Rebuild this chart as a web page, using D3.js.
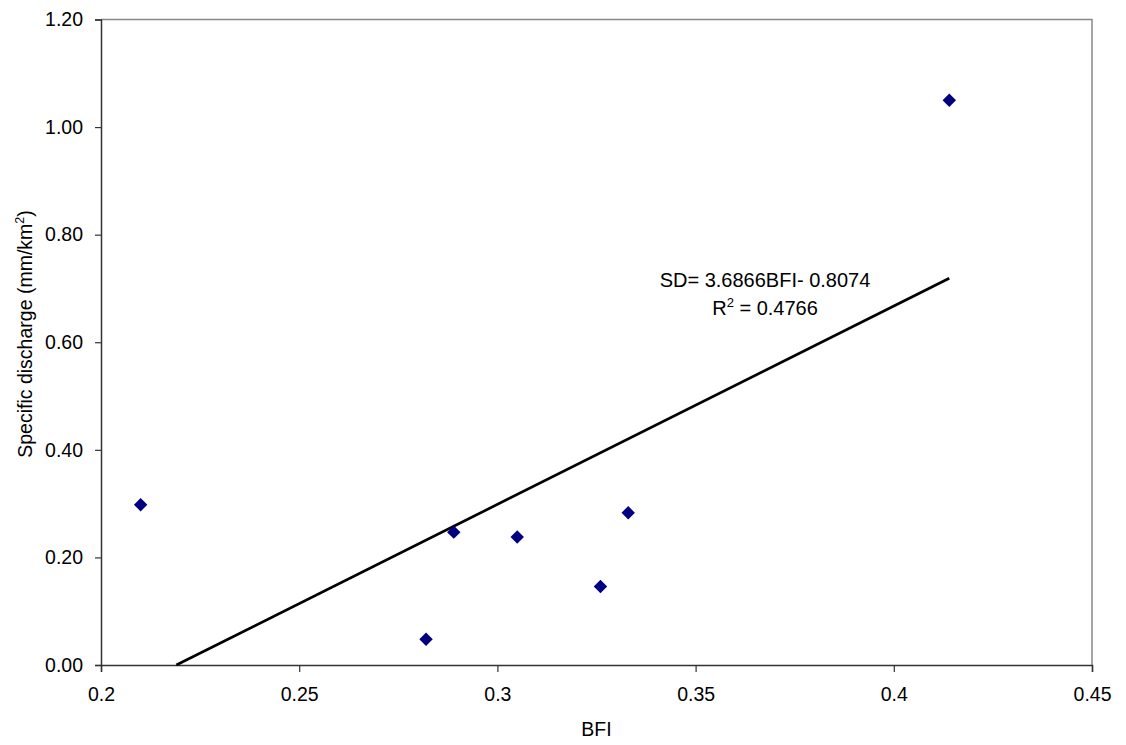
<!DOCTYPE html>
<html>
<head>
<meta charset="utf-8">
<script src="https://cdn.jsdelivr.net/npm/d3@7"></script>
<style>
  html, body { margin: 0; padding: 0; background: #fff; }
  svg { display: block; font-family: Arial, "Liberation Sans", sans-serif; }
</style>
</head>
<body>
<svg id="chart" width="1126" height="745"></svg>
<script>
// Observed basin values: baseflow index vs specific discharge
const bfi = [0.210, 0.282, 0.289, 0.305, 0.326, 0.333, 0.414];
const specificDischarge = [0.298, 0.048, 0.247, 0.238, 0.146, 0.283, 1.050];

// Linear fit SD = slope * BFI + intercept
const slope = 3.6866;
const intercept = -0.8074;
const rSquared = 0.4766;

const xTicks = [0.2, 0.25, 0.3, 0.35, 0.4, 0.45];
const yTicks = [0, 0.2, 0.4, 0.6, 0.8, 1.0, 1.2];

const FONT = 19.5;
const svg = d3.select("#chart");
const margin = { left: 101, top: 19.5, right: 1126 - 1092, bottom: 745 - 665 };
const width = 1126 - margin.left - margin.right;
const height = 745 - margin.top - margin.bottom;

const x = d3.scaleLinear().domain([0.2, 0.45]).range([margin.left, margin.left + width]);
const y = d3.scaleLinear().domain([0, 1.2]).range([margin.top + height, margin.top]);

// Plot area border (top and right in grey)
svg.append("path")
  .attr("d", `M${x(0.2)},${y(1.2)}H${x(0.45)}V${y(0)}`)
  .attr("fill", "none").attr("stroke", "#888").attr("stroke-width", 1.5);

// Axes
const xAxis = d3.axisBottom(x).tickValues(xTicks).tickSize(7).tickPadding(15)
  .tickFormat(d => String(+d.toFixed(2)));
const yAxis = d3.axisLeft(y).tickValues(yTicks).tickSize(6).tickPadding(12)
  .tickFormat(d3.format(".2f"));

const gx = svg.append("g").attr("transform", `translate(0,${y(0)})`).call(xAxis);
const gy = svg.append("g").attr("transform", `translate(${x(0.2)},0)`).call(yAxis);
[gx, gy].forEach(g => {
  g.select(".domain").attr("stroke", "#333").attr("stroke-width", 1.5);
  g.selectAll(".tick line").attr("stroke", "#333").attr("stroke-width", 1.2);
  g.selectAll(".tick text").attr("fill", "#000").attr("font-size", FONT)
    .attr("font-family", "Arial, 'Liberation Sans', sans-serif");
});

// Trend line from the x-intercept to the largest BFI
const x0 = -intercept / slope;
const x1 = d3.max(bfi);
svg.append("line")
  .attr("x1", x(x0)).attr("y1", y(slope * x0 + intercept))
  .attr("x2", x(x1)).attr("y2", y(slope * x1 + intercept))
  .attr("stroke", "#000").attr("stroke-width", 2.7);

// Diamond markers
const r = 6.7;
svg.append("g").selectAll("path")
  .data(bfi.map((b, i) => [b, specificDischarge[i]]))
  .join("path")
  .attr("transform", d => `translate(${x(d[0])},${y(d[1])})`)
  .attr("d", `M0,${-r}L${r},0L0,${r}L${-r},0Z`)
  .attr("fill", "#000080");

// Equation label
const eq = svg.append("g").attr("font-size", 20).attr("fill", "#000");
eq.append("text").attr("x", 765).attr("y", 287).attr("text-anchor", "middle")
  .text(`SD= ${slope}BFI- ${Math.abs(intercept).toFixed(4)}`);
const r2 = eq.append("text").attr("x", 765).attr("y", 315).attr("text-anchor", "middle");
r2.append("tspan").text("R");
r2.append("tspan").attr("font-size", 13).attr("dy", -8).text("2");
r2.append("tspan").attr("dy", 8).text(` = ${rSquared}`);

// Axis titles
svg.append("text").attr("x", x(0.325)).attr("y", 736).attr("text-anchor", "middle")
  .attr("font-size", FONT).text("BFI");
const yt = svg.append("text")
  .attr("transform", `translate(32,334) rotate(-90)`)
  .attr("text-anchor", "middle").attr("font-size", FONT);
yt.append("tspan").text("Specific discharge (mm/km");
yt.append("tspan").attr("font-size", 12.5).attr("dy", -8).text("2");
yt.append("tspan").attr("dy", 8).text(")");
</script>
</body>
</html>
